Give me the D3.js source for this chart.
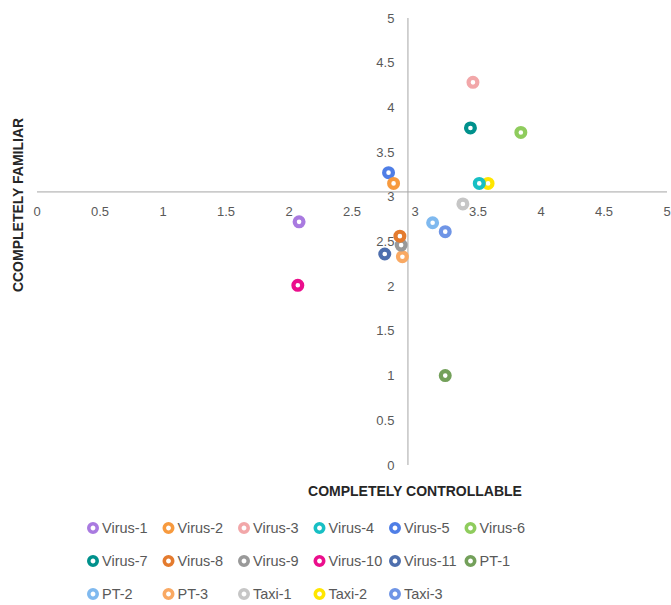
<!DOCTYPE html>
<html>
<head>
<meta charset="utf-8">
<script src="https://cdn.jsdelivr.net/npm/d3@7"></script>
<style>
  html, body { margin: 0; padding: 0; background: #fff; }
  svg { display: block; }
</style>
</head>
<body>
<svg id="chart" width="671" height="605"></svg>
<script>
// ---- data ----
const seriesNames = ["Virus-1","Virus-2","Virus-3","Virus-4","Virus-5","Virus-6",
  "Virus-7","Virus-8","Virus-9","Virus-10","Virus-11","PT-1",
  "PT-2","PT-3","Taxi-1","Taxi-2","Taxi-3"];
const controllable = [2.08, 2.83, 3.46, 3.51, 2.79, 3.84, 3.44, 2.88, 2.89, 2.07, 2.76, 3.24, 3.14, 2.90, 3.38, 3.58, 3.24];
const familiar     = [2.72, 3.15, 4.28, 3.15, 3.27, 3.72, 3.77, 2.56, 2.46, 2.01, 2.36, 1.00, 2.71, 2.33, 2.92, 3.15, 2.61];
const seriesColors = ["#a97ae0","#f79a3e","#f2a7a9","#17bfc4","#4f7ee6","#8fcc5d",
  "#00918c","#e47b2e","#999999","#eb0e8c","#4e6fae","#73a05a",
  "#7fb9ef","#f9a963","#c6c6c6","#ffe600","#6f95e6"];
const xTicks = [0, 0.5, 1, 1.5, 2, 2.5, 3, 3.5, 4, 4.5, 5];
const yTicks = [0, 0.5, 1, 1.5, 2, 2.5, 3, 3.5, 4, 4.5, 5];
const xCross = 2.94;   // where the vertical axis crosses the x scale
const yCross = 3.06;   // where the horizontal axis crosses the y scale
const xTitle = "COMPLETELY CONTROLLABLE";
const yTitle = "CCOMPLETELY FAMILIAR";

// ---- layout ----
const svg = d3.select("#chart");
const x = d3.scaleLinear().domain([0, 5]).range([37, 667]);
const y = d3.scaleLinear().domain([0, 5]).range([465, 18]);
const labelColor = "#595959";
const font = "'Liberation Sans', Arial, sans-serif";

// axis lines
svg.append("line")
  .attr("x1", x(0)).attr("x2", x(5))
  .attr("y1", y(yCross) + 0.5).attr("y2", y(yCross) + 0.5)
  .attr("stroke", "#a6a6a6").attr("stroke-width", 1);
svg.append("line")
  .attr("x1", x(xCross) + 0.5).attr("x2", x(xCross) + 0.5)
  .attr("y1", y(5)).attr("y2", y(0))
  .attr("stroke", "#a6a6a6").attr("stroke-width", 1);

// x tick labels (below the horizontal axis)
svg.append("g").selectAll("text").data(xTicks).join("text")
  .attr("x", d => x(d))
  .attr("y", y(yCross) + 25)
  .attr("text-anchor", "middle")
  .attr("font-family", font).attr("font-size", 13)
  .attr("fill", labelColor)
  .text(d => d);

// y tick labels (left of the vertical axis)
svg.append("g").selectAll("text").data(yTicks).join("text")
  .attr("x", x(xCross) - 13)
  .attr("y", d => y(d))
  .attr("dy", "0.35em")
  .attr("text-anchor", "end")
  .attr("font-family", font).attr("font-size", 13)
  .attr("fill", labelColor)
  .text(d => d);

// axis titles
svg.append("text")
  .attr("x", 415).attr("y", 496)
  .attr("text-anchor", "middle")
  .attr("font-family", font).attr("font-size", 14).attr("font-weight", "bold")
  .attr("fill", "#262626")
  .text(xTitle);
svg.append("text")
  .attr("transform", `translate(23,${205}) rotate(-90)`)
  .attr("text-anchor", "middle")
  .attr("font-family", font).attr("font-size", 14).attr("font-weight", "bold")
  .attr("fill", "#262626")
  .text(yTitle);

// points
const pts = seriesNames.map((n, i) => ({name: n, cx: controllable[i], fy: familiar[i], color: seriesColors[i]}));
svg.append("g").selectAll("circle").data(pts.slice().reverse()).join("circle")
  .attr("cx", d => x(d.cx))
  .attr("cy", d => y(d.fy))
  .attr("r", 4.4)
  .attr("fill", "#fff")
  .attr("stroke", d => d.color)
  .attr("stroke-width", 4.2);

// legend
const legendX0 = 93, legendDX = 75.5;
const legendRows = [528, 561, 594];
const lg = svg.append("g").selectAll("g").data(pts).join("g")
  .attr("transform", (d, i) => `translate(${legendX0 + (i % 6) * legendDX},${legendRows[Math.floor(i / 6)]})`);
lg.append("circle")
  .attr("r", 4.2).attr("fill", "#fff")
  .attr("stroke", d => d.color).attr("stroke-width", 3.6);
lg.append("text")
  .attr("x", 9).attr("dy", "0.36em")
  .attr("font-family", font).attr("font-size", 14.5)
  .attr("fill", labelColor)
  .text(d => d.name);
</script>
</body>
</html>
